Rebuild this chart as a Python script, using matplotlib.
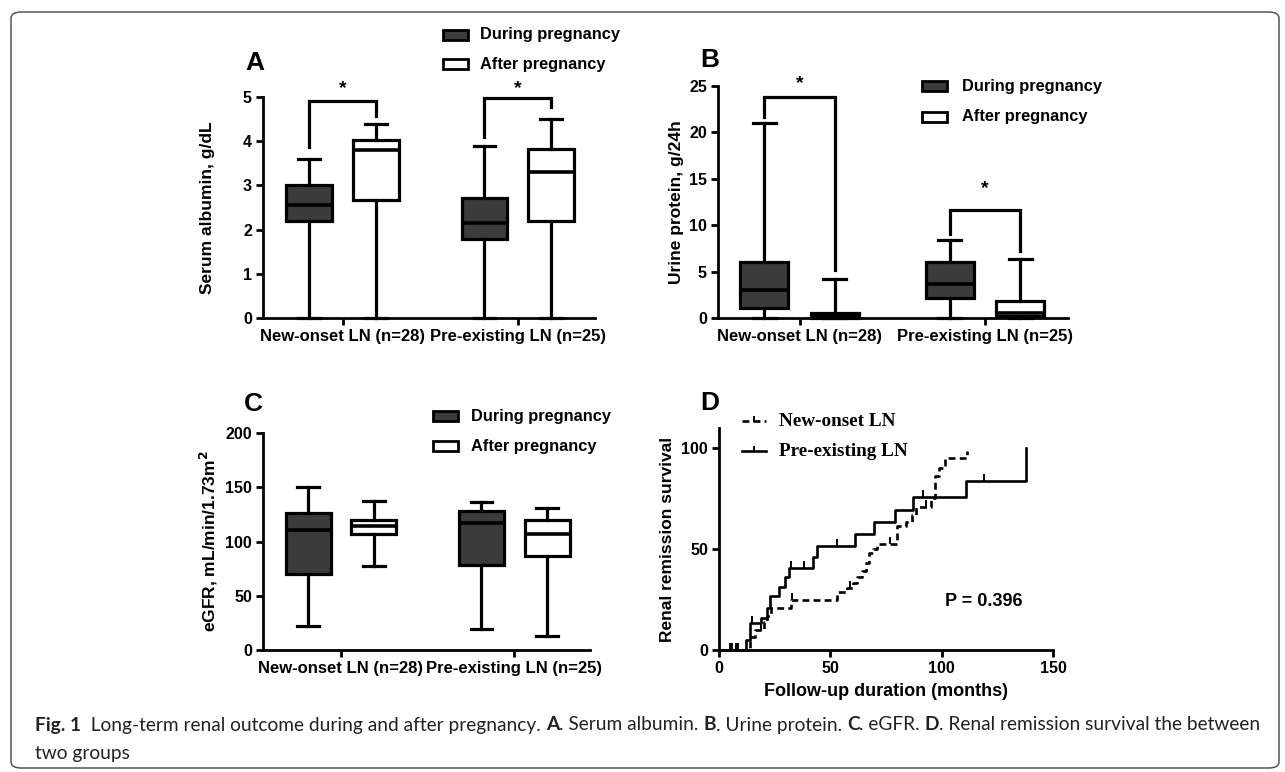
import matplotlib
matplotlib.use("Agg")
import matplotlib.pyplot as plt
import numpy as np
from matplotlib.patches import Rectangle, FancyBboxPatch
from matplotlib.lines import Line2D

plt.rcParams['font.family'] = 'Liberation Sans'
plt.rcParams['font.weight'] = 'bold'
plt.rcParams['axes.labelweight'] = 'bold'

W, H = 1285, 772

groups = ['New-onset LN (n=28)', 'Pre-existing LN (n=25)']
series = ['During pregnancy', 'After pregnancy']

# box stats per group: [min, q1, median, q3, max]
albumin_during = [[0, 2.2, 2.55, 3.0, 3.6], [0, 1.78, 2.15, 2.72, 3.9]]
albumin_after = [[0, 2.68, 3.8, 4.02, 4.4], [0, 2.2, 3.3, 3.82, 4.5]]
protein_during = [[0, 1.05, 3.0, 6.05, 21.0], [0, 2.15, 3.7, 6.05, 8.4]]
protein_after = [[0, 0.0, 0.25, 0.5, 4.2], [0, 0.2, 0.5, 1.85, 6.4]]
egfr_during = [[22, 70, 111, 126, 150], [19, 78, 117, 128, 136]]
egfr_after = [[77, 107, 114, 120, 137], [13, 87, 107, 120, 131]]

# significance brackets: (left end, top, right end, star height)
albumin_sig = [(3.88, 4.9, 4.56, 5.2), (4.1, 4.98, 4.77, 5.2)]
protein_sig = [(21.7, 23.8, 5.2, 25.3), (9.0, 11.66, 7.2, 14.0)]

# Kaplan-Meier curves (months, % remission)
new_t = [0, 14, 16, 20, 21.5, 23.5, 32.5, 53, 57.5, 60, 62, 64, 66, 67.5, 69, 71,
         80, 84, 86.5, 88.5, 95, 97, 99, 101.5, 111.5]
new_s = [0, 6.5, 10, 14, 17, 21, 25, 28.5, 30.5, 33, 36, 39, 43, 48, 50, 52.5,
         61.5, 63.5, 67, 71, 75.5, 86, 90, 95.3, 98.5]
new_cens = [6, 8.5, 19, 33, 59, 77, 93]
pre_t = [0, 12, 14, 19, 21.5, 23, 27, 29.5, 31.5, 42, 44, 61, 69.5, 79, 87, 111, 138]
pre_s = [0, 5, 13.2, 15.7, 20.6, 26.7, 31.4, 36, 40.5, 46, 51.5, 57.4, 63.5, 69.6,
         75.6, 83.8, 100]
pre_cens = [5, 7.5, 15, 32.5, 38, 53, 91.5, 119]

dark = '#3b3b3b'


def px(x, y):
    return x / W, 1 - y / H


def style_axes(ax):
    for s in ['top', 'right']:
        ax.spines[s].set_visible(False)
    for s in ['left', 'bottom']:
        ax.spines[s].set_linewidth(2)
    ax.tick_params(direction='out', length=5, width=2, labelsize=11.5, pad=3)


def box_panel(rect, during, after, ylim, yticks, ylabel, xlim, lab_x, sig=None):
    ax = fig.add_axes(rect)
    style_axes(ax)
    stats, pos, cols = [], [], []
    for g in range(len(groups)):
        for off, data, fc in [(-0.19, during[g], dark), (0.19, after[g], 'white')]:
            lo, q1, med, q3, hi = data
            stats.append(dict(whislo=lo, q1=q1, med=med, q3=q3, whishi=hi, fliers=[]))
            pos.append(g + off)
            cols.append(fc)
    art = ax.bxp(stats, positions=pos, widths=0.26, capwidths=0.125, patch_artist=True,
                 showfliers=False, manage_ticks=False,
                 boxprops=dict(edgecolor='black', linewidth=2.3),
                 medianprops=dict(color='black', linewidth=2.6),
                 whiskerprops=dict(color='black', linewidth=2.3),
                 capprops=dict(color='black', linewidth=2.3))
    for b, c in zip(art['boxes'], cols):
        b.set_facecolor(c)
    for k in art:
        for a in art[k]:
            a.set_clip_on(False)
    if sig:
        for g, (l, top, r, star) in enumerate(sig):
            ax.plot([g - 0.19, g - 0.19, g + 0.19, g + 0.19], [l, top, top, r],
                    color='black', lw=2.3, clip_on=False, solid_joinstyle='miter')
            ax.text(g, star, '*', ha='center', va='center', fontsize=14)
    ax.set_xlim(*xlim)
    ax.set_ylim(*ylim)
    ax.set_yticks(yticks)
    ax.set_xticks(range(len(groups)))
    ax.set_xticklabels(groups, fontsize=12)
    ax.set_ylabel(ylabel, fontsize=12.5)
    ax.yaxis.set_label_coords(lab_x, 0.5)
    return ax


def key(x, y, fc, label, tx):
    x0, y0 = px(x, y + 5)
    x1, _ = px(x + 25, y)
    fig.add_artist(Rectangle((x0, y0), x1 - x0, 10 / H, facecolor=fc,
                             edgecolor='black', lw=2, transform=fig.transFigure))
    fig.text(*px(tx, y), label, ha='left', va='center', fontsize=11.8)


fig = plt.figure(figsize=(W / 100, H / 100), dpi=100)

# outer frame
fig.add_artist(FancyBboxPatch((11 / W, 4 / H), 1268 / W, 756 / H,
                              boxstyle='round,pad=0,rounding_size=0.008',
                              facecolor='none', edgecolor='#555555', lw=1.1,
                              transform=fig.transFigure))

# A
box_panel([263 / W, 1 - 318 / H, 332 / W, 221 / H], albumin_during, albumin_after,
          (0, 5), range(6), 'Serum albumin, g/dL', (-0.454, 1.441), -0.145, albumin_sig)
fig.text(*px(255, 63), 'A', ha='center', va='center', fontsize=19)
key(443, 35, dark, series[0], 480)
key(443, 64, 'white', series[1], 480)

# B
box_panel([718 / W, 1 - 318 / H, 350 / W, 232 / H], protein_during, protein_after,
          (0, 25), range(0, 26, 5), 'Urine protein, g/24h', (-0.44, 1.447), -0.097,
          protein_sig)
fig.text(*px(710, 60), 'B', ha='center', va='center', fontsize=19)
key(922, 86, dark, series[0], 962)
key(922, 117, 'white', series[1], 962)

# C
box_panel([263 / W, 1 - 650 / H, 327 / W, 217 / H], egfr_during, egfr_after,
          (0, 200), range(0, 201, 50), 'eGFR, mL/min/1.73m$^\\mathbf{2}$',
          (-0.45, 1.437), -0.131)
fig.text(*px(253, 404), 'C', ha='center', va='center', fontsize=19)
key(433, 416, dark, series[0], 471)
key(433, 446, 'white', series[1], 471)

# D
axd = fig.add_axes([719 / W, 1 - 650 / H, 334 / W, 222 / H])
style_axes(axd)
axd.step(new_t, new_s, where='post', color='black', lw=1.9, ls=(0, (2.6, 1.6)),
         clip_on=False)
axd.step(pre_t, pre_s, where='post', color='black', lw=1.9, clip_on=False)
for t_, s_, c_ in [(new_t, new_s, new_cens), (pre_t, pre_s, pre_cens)]:
    idx = np.searchsorted(t_, c_, side='right') - 1
    axd.plot(c_, np.array(s_)[idx], ls='none', marker=2, ms=5, mew=1.4,
             color='black', clip_on=False)
axd.set_xlim(0, 150)
axd.set_ylim(0, 110)
axd.set_xticks([0, 50, 100, 150])
axd.set_yticks([0, 50, 100])
axd.set_xlabel('Follow-up duration (months)', fontsize=13, labelpad=5)
axd.set_ylabel('Renal remission survival', fontsize=12.5)
axd.yaxis.set_label_coords(-0.132, 0.5)
axd.text(119, 24, 'P = 0.396', ha='center', va='center', fontsize=13)
fig.text(*px(710, 403), 'D', ha='center', va='center', fontsize=19)

for y, ls, lab in [(421, (0, (2.6, 1.6)), 'New-onset LN'), (451, '-', 'Pre-existing LN')]:
    x0, yy = px(742, y)
    x1, _ = px(766, y)
    fig.add_artist(Line2D([x0, x1], [yy, yy], color='black', lw=1.9, ls=ls,
                          transform=fig.transFigure))
    fig.add_artist(Line2D([(x0 + x1) / 2] * 2, [yy, yy + 4 / H], color='black', lw=1.4,
                          transform=fig.transFigure))
    fig.text(*px(779, y), lab, ha='left', va='center', fontsize=13.8,
             family='Liberation Serif', weight='bold')

# caption, bold and regular pieces laid side by side
caption = [('Fig. 1', 'bold'), ('  Long-term renal outcome during and after pregnancy. ', 'normal'),
           ('A', 'bold'), ('. Serum albumin. ', 'normal'), ('B', 'bold'),
           ('. Urine protein. ', 'normal'), ('C', 'bold'), ('. eGFR. ', 'normal'),
           ('D', 'bold'), ('. Renal remission survival the between', 'normal')]
cap_font = 'Lato'
r = fig.canvas.get_renderer()


def text_w(s, weight, size):
    t = fig.text(0, 0, s + '|', family=cap_font, weight=weight, fontsize=size)
    b = fig.text(0, 0, '|', family=cap_font, weight=weight, fontsize=size)
    w = t.get_window_extent(r).width - b.get_window_extent(r).width
    t.remove()
    b.remove()
    return w


total = sum(text_w(s, w, 11) for s, w in caption)
size = 11 * 1227 / total
x = 35
for s, w in caption:
    fig.text(*px(x, 725), s, family=cap_font, weight=w, fontsize=size, va='center',
             color='#222222')
    x += text_w(s, w, size)
fig.text(*px(35, 754), 'two groups', family=cap_font, weight='normal', fontsize=size,
         va='center', color='#222222')

fig.savefig('out.png', dpi=100)
